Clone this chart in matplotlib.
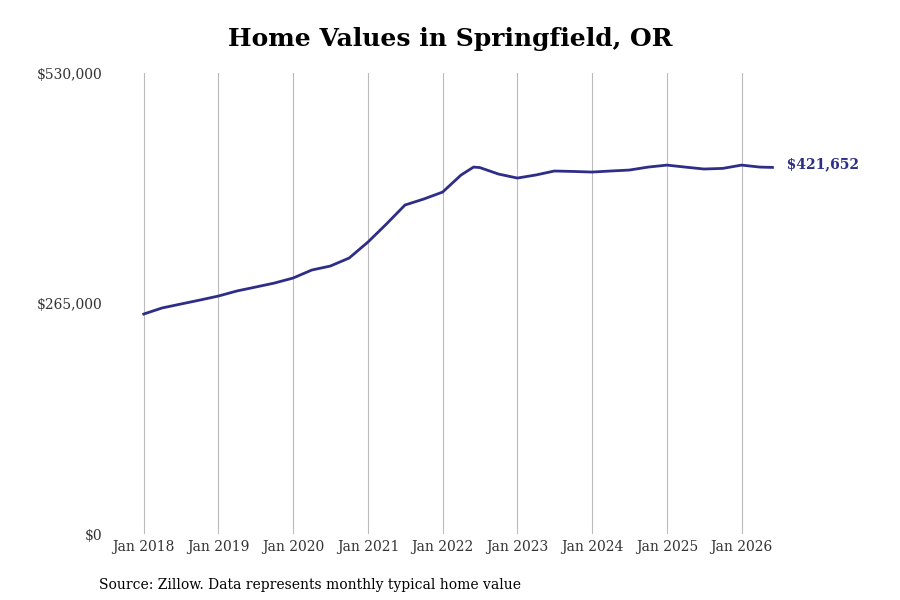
import matplotlib.pyplot as plt
import matplotlib.dates as mdates
from datetime import date

plt.rcParams['font.family'] = ['DejaVu Serif']

# quarterly readings of typical home value
months = ["2018-01", "2018-04", "2018-07", "2018-10", "2019-01", "2019-04", "2019-07", "2019-10",
          "2020-01", "2020-04", "2020-07", "2020-10", "2021-01", "2021-04", "2021-07", "2021-10",
          "2022-01", "2022-04", "2022-06", "2022-07", "2022-10", "2023-01", "2023-04", "2023-07",
          "2023-10", "2024-01", "2024-04", "2024-07", "2024-10", "2025-01", "2025-04", "2025-07",
          "2025-10", "2026-01", "2026-04", "2026-06"]
values = [253000, 260000, 264500, 269000, 273700, 279500, 284000, 288600,
          294400, 303600, 308200, 317400, 335800, 356500, 378400, 385300,
          393300, 412900, 422000, 421500, 414000, 409400, 412900, 417500,
          417000, 416300, 417500, 418600, 422000, 424300, 422000, 419800,
          420500, 424300, 422000, 421652]

dates = [date(int(m[:4]), int(m[5:]), 1) for m in months]

fig, ax = plt.subplots(figsize=(9, 6), dpi=100)
fig.subplots_adjust(left=0.132, right=0.886, top=0.878, bottom=0.11)

ax.plot(dates, values, color='#2e2d88', linewidth=2)
ax.text(dates[-1], values[-1] + 4000, '   $' + format(values[-1], ','), color='#2e2d88',
        fontsize=10, fontweight='bold', va='center', ha='left')

ax.set_ylim(0, 530000)
ax.set_yticks([0, 265000, 530000])
ax.set_yticklabels(['$0', '$265,000', '$530,000'])
ticks = [date(y, 1, 1) for y in range(2018, 2027)]
ax.set_xticks(ticks)
ax.xaxis.set_major_formatter(mdates.DateFormatter('%b %Y'))
ax.set_xlim(date(2017, 9, 1), date(2026, 10, 1))
ax.grid(axis='x', color='#bbbbbb', linewidth=0.8)
for s in ax.spines.values():
    s.set_visible(False)
ax.tick_params(length=0, labelsize=10, colors='#333333')
ax.tick_params(axis='y', pad=12)
ax.tick_params(axis='x', pad=4)

fig.suptitle('Home Values in Springfield, OR', fontsize=18, fontweight='bold', y=0.955)
fig.text(0.11, 0.018, 'Source: Zillow. Data represents monthly typical home value', fontsize=10)

fig.savefig('out.png')
